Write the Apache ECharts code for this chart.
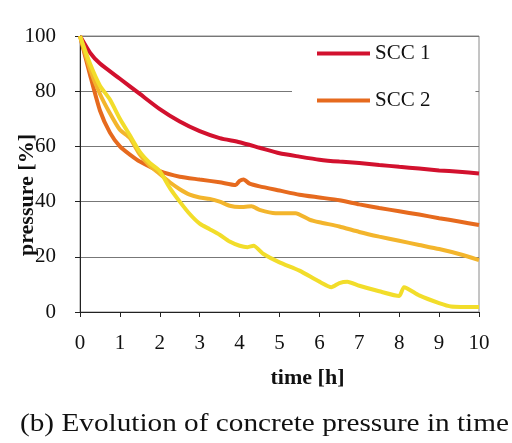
<!DOCTYPE html>
<html>
<head>
<meta charset="utf-8">
<script src="https://cdn.jsdelivr.net/npm/echarts@6/dist/echarts.min.js"></script>
<style>
    html, body {margin: 0; padding: 0; background: #fff;}
    #main {width: 512px; height: 443px;}
</style>
</head>
<body>
<div id="main"></div>
<script>
// x axis ticks (hours) and y axis ticks (%)
var timeTicks = [0, 1, 2, 3, 4, 5, 6, 7, 8, 9, 10];
var pressureTicks = [0, 20, 40, 60, 80, 100];

// SCC 1 (red)
var scc1Time = [0, 0.25, 0.5, 1, 1.5, 2, 2.5, 3, 3.5, 4, 4.5, 5, 5.5, 6, 6.5, 7, 7.5, 8, 8.5, 9, 9.5, 10];
var scc1Pressure = [100, 94, 90, 84.5, 79, 73.5, 69, 65.5, 63, 61.5, 59.5, 57.5, 56.3, 55.2, 54.5, 54, 53.3, 52.6, 52, 51.3, 50.8, 50.2];

// SCC 2 (orange)
var scc2Time = [0, 0.25, 0.5, 0.75, 1, 1.25, 1.5, 2, 2.5, 3, 3.5, 3.9, 4.0, 4.1, 4.25, 4.5, 5, 5.5, 6, 6.5, 7, 7.5, 8, 8.5, 9, 9.5, 10];
var scc2Pressure = [100, 86, 73, 65, 60, 57, 54.5, 51, 49, 48, 47, 46, 47.5, 48, 46.5, 45.5, 44, 42.5, 41.5, 40.5, 39, 37.7, 36.5, 35.3, 34, 32.8, 31.5];

// third curve (gold)
var scc3Time = [0, 0.25, 0.5, 0.75, 1, 1.25, 1.5, 1.75, 2, 2.25, 2.5, 2.75, 3, 3.25, 3.5, 3.75, 4, 4.3, 4.5, 4.9, 5.4, 5.75, 6, 6.5, 7, 7.5, 8, 8.5, 9, 9.5, 10];
var scc3Pressure = [100, 88, 79, 72, 66, 63, 57, 53, 50, 47, 44.5, 42.5, 41.5, 41, 40, 38.5, 38, 38.3, 37, 35.8, 35.8, 33.5, 32.5, 31, 29, 27.3, 25.8, 24.3, 22.8, 21, 18.8];

// fourth curve (yellow)
var scc4Time = [0, 0.25, 0.5, 0.75, 1, 1.25, 1.5, 1.75, 2, 2.25, 2.5, 2.75, 3, 3.25, 3.5, 3.75, 4, 4.2, 4.35, 4.6, 5, 5.5, 6, 6.3, 6.5, 6.7, 7, 7.5, 8, 8.12, 8.5, 9, 9.3, 10];
var scc4Pressure = [100, 90, 82, 77, 70, 64, 58, 54, 51, 45, 40, 35.5, 32, 30, 28, 25.5, 24, 23.5, 24, 21, 18, 15, 11, 9, 10.5, 11, 9.5, 7.5, 5.8, 9, 6, 3.2, 2, 1.8];

function pairs(xs, ys) {
    var out = [];
    for (var i = 0; i < xs.length; i++) {
        out.push([xs[i], ys[i]]);
    }
    return out;
}

var serif = 'Liberation Serif';
var myChart = echarts.init(document.getElementById('main'));

function lineSeries(name, xs, ys, color) {
    return {
        name: name,
        type: 'line',
        data: pairs(xs, ys),
        showSymbol: false,
        smooth: 0.2,
        lineStyle: {color: color, width: 4},
        itemStyle: {color: color}
    };
}

var option = {
    animation: false,
    backgroundColor: '#fff',
    grid: {
        left: 80, right: 33, top: 36, bottom: 131,
        containLabel: false,
        outerBoundsMode: 'none',
        show: true, borderColor: '#8a8a8a', borderWidth: 1
    },
    legend: {
        data: ['SCC 1', 'SCC 2'],
        orient: 'vertical',
        left: 292, top: 38,
        padding: [5, 45, 8, 25],
        backgroundColor: '#fff',
        icon: 'rect',
        itemWidth: 53, itemHeight: 4,
        itemGap: 26,
        textStyle: {fontFamily: serif, fontSize: 21, color: '#111', lineHeight: 20}
    },
    xAxis: {
        type: 'value',
        min: 0, max: 10, interval: 1,
        name: 'time [h]',
        nameLocation: 'middle',
        nameGap: 55,
        nameMoveOverlap: false,
        nameTextStyle: {fontFamily: serif, fontSize: 22, fontWeight: 'bold', color: '#111', padding: [0, 0, 0, 56]},
        axisLine: {lineStyle: {color: '#222', width: 1}},
        axisTick: {show: true, length: 5, lineStyle: {color: '#222'}},
        axisLabel: {fontFamily: serif, fontSize: 21, color: '#111', margin: 21},
        splitLine: {show: false}
    },
    yAxis: {
        type: 'value',
        min: 0, max: 100, interval: 20,
        name: 'pressure [%]',
        nameLocation: 'middle',
        nameGap: 42,
        nameMoveOverlap: false,
        nameTextStyle: {fontFamily: serif, fontSize: 22, fontWeight: 'bold', color: '#111', padding: [0, 42, 0, 0]},
        axisLine: {show: true, lineStyle: {color: '#222', width: 1}},
        axisTick: {show: true, length: 5, lineStyle: {color: '#222'}},
        axisLabel: {fontFamily: serif, fontSize: 21, color: '#111', margin: 24},
        splitLine: {show: true, lineStyle: {color: '#777', width: 1}}
    },
    series: [
        lineSeries('SCC 1', scc1Time, scc1Pressure, '#d2112e'),
        lineSeries('SCC 2', scc2Time, scc2Pressure, '#e66a1e'),
        lineSeries('SCC 3', scc3Time, scc3Pressure, '#f3b52c'),
        lineSeries('SCC 4', scc4Time, scc4Pressure, '#f2dd2a')
    ],
    graphic: [{
        type: 'text',
        x: 20,
        y: 412,
        scaleX: 1.17,
        style: {
            text: '(b) Evolution of concrete pressure in time',
            font: '25px ' + serif,
            fill: '#111'
        }
    }]
};

myChart.setOption(option);
</script>
</body>
</html>
